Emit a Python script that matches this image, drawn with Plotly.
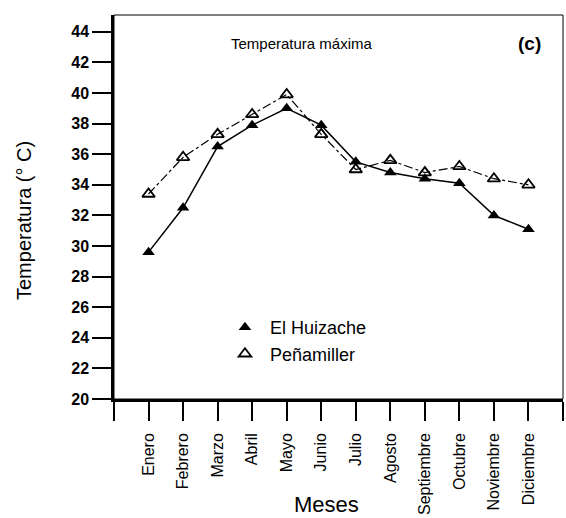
import plotly.graph_objects as go

meses = ["Enero", "Febrero", "Marzo", "Abril", "Mayo", "Junio", "Julio",
         "Agosto", "Septiembre", "Octubre", "Noviembre", "Diciembre"]
huizache = [29.6, 32.5, 36.5, 37.9, 39.0, 37.9, 35.5, 34.8, 34.4, 34.1, 32.0, 31.1]
penamiller = [33.4, 35.8, 37.3, 38.6, 39.9, 37.3, 35.0, 35.6, 34.8, 35.2, 34.4, 34.0]
y_ticks = [20, 22, 24, 26, 28, 30, 32, 34, 36, 38, 40, 42, 44]

xpos = list(range(1, len(meses) + 1))
font = "Arial, Liberation Sans, sans-serif"

fig = go.Figure()
fig.add_trace(go.Scatter(x=xpos, y=huizache, mode="lines",
                         line=dict(color="black", width=1.5), showlegend=False))
fig.add_trace(go.Scatter(x=xpos, y=penamiller, mode="lines",
                         line=dict(color="black", width=1.2, dash="dashdot"), showlegend=False))
fig.add_trace(go.Scatter(x=xpos, y=huizache, mode="markers", name="El Huizache",
                         marker=dict(symbol="triangle-up", size=11, color="black")))
fig.add_trace(go.Scatter(x=xpos, y=penamiller, mode="markers", name="Peñamiller",
                         marker=dict(symbol="triangle-up-open", size=11, color="black",
                                     line=dict(width=1.8, color="black"))))

fig.update_layout(
    width=566, height=518,
    margin=dict(l=114, r=3, t=15, b=119),
    paper_bgcolor="white", plot_bgcolor="white",
    font=dict(family=font, color="black"),
    legend=dict(x=0.236, y=0.234, xanchor="left", yanchor="top",
                bgcolor="rgba(0,0,0,0)", font=dict(size=18, family=font),
                tracegroupgap=0, itemwidth=40),
    annotations=[
        dict(text="Temperatura máxima", x=0.419, y=0.927, xref="paper", yref="paper",
             showarrow=False, font=dict(size=15, family=font),
             xanchor="center", yanchor="middle"),
        dict(text="<b>(c)</b>", x=0.925, y=0.927, xref="paper", yref="paper",
             showarrow=False, font=dict(size=19, family=font),
             xanchor="center", yanchor="middle"),
        dict(text="Meses", x=0.474, y=-0.276, xref="paper", yref="paper",
             showarrow=False, font=dict(size=22, family=font),
             xanchor="center", yanchor="middle"),
        dict(text="Temperatura (° C)", x=-0.2, y=0.464, xref="paper", yref="paper",
             showarrow=False, font=dict(size=20, family=font), textangle=-90,
             xanchor="center", yanchor="middle"),
    ],
    shapes=[dict(type="rect", xref="paper", yref="paper", x0=0, x1=1, y0=0, y1=1,
                 line=dict(color="black", width=1), layer="above")],
)
fig.update_xaxes(
    range=[0, 13], tickvals=list(range(0, 14)),
    ticktext=[""] + meses + [""], tickangle=-90,
    ticks="outside", ticklen=19, tickwidth=1.5, tickcolor="black",
    ticklabelstandoff=6, automargin=False,
    tickfont=dict(size=16, family=font),
    showline=True, linecolor="black", linewidth=2.5, mirror=False,
    showgrid=False, zeroline=False,
)
fig.update_yaxes(
    range=[20, 45.1], tickvals=y_ticks, automargin=False,
    ticks="outside", ticklen=19, tickwidth=1.5, tickcolor="black",
    tickfont=dict(size=16, family=font, weight="bold"),
    showline=True, linecolor="black", linewidth=2.5, mirror=False,
    showgrid=False, zeroline=False,
)

fig.write_html("out.html")
